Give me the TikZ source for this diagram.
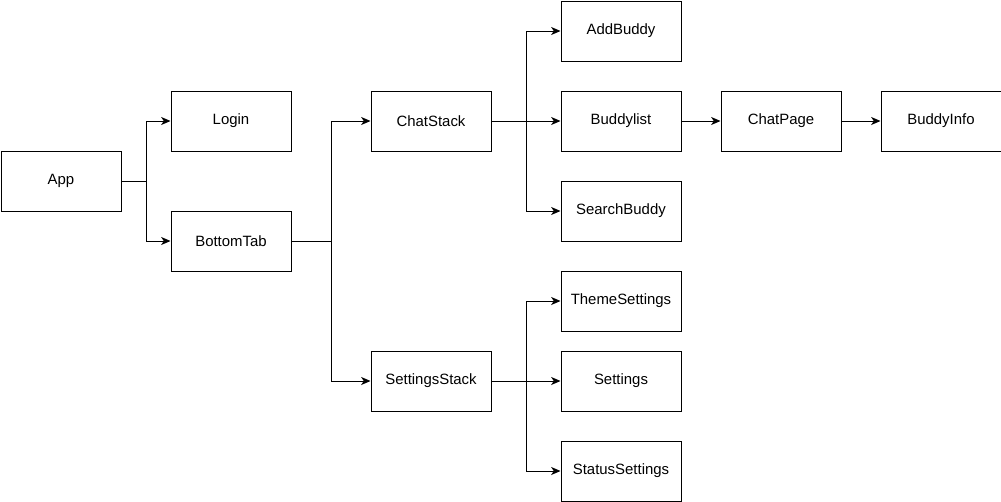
\documentclass[tikz,border=0pt]{standalone}
\usepackage{fontspec}
\setmainfont{Liberation Sans}
\usetikzlibrary{arrows.meta}
\begin{document}
\begin{tikzpicture}[x=0.75pt,y=-0.75pt,
  box/.style={draw=black,line width=0.75pt,minimum width=90pt,minimum height=45pt,inner sep=0pt,font=\fontsize{11.2pt}{13pt}\selectfont,anchor=north west},
  arr/.style={draw=black,line width=0.75pt,-{Stealth[length=7pt,width=6pt,inset=2pt]}}]
\useasboundingbox (0,0) rectangle (1001,501);
\node[box] (app) at (0.5,150.5) {App};
\node[box] (login) at (170.5,90.5) {Login};
\node[box] (bottomtab) at (170.5,210.5) {BottomTab};
\node[box] (chatstack) at (370.5,90.5) {ChatStack};
\node[box] (settingsstack) at (370.5,350.5) {SettingsStack};
\node[box] (addbuddy) at (560.5,0.5) {AddBuddy};
\node[box] (buddylist) at (560.5,90.5) {Buddylist};
\node[box] (searchbuddy) at (560.5,180.5) {SearchBuddy};
\node[box] (chatpage) at (720.5,90.5) {ChatPage};
\node[box] (buddyinfo) at (880.5,90.5) {BuddyInfo};
\node[box] (themesettings) at (560.5,270.5) {ThemeSettings};
\node[box] (settings) at (560.5,350.5) {Settings};
\node[box] (statussettings) at (560.5,440.5) {StatusSettings};
\draw[arr] (app.east) -- ++(25,0) |- (login.west);
\draw[arr] (app.east) -- ++(25,0) |- (bottomtab.west);
\draw[arr] (bottomtab.east) -- ++(40,0) |- (chatstack.west);
\draw[arr] (bottomtab.east) -- ++(40,0) |- (settingsstack.west);
\draw[arr] (chatstack.east) -- ++(35,0) |- (addbuddy.west);
\draw[arr] (chatstack.east) -- (buddylist.west);
\draw[arr] (chatstack.east) -- ++(35,0) |- (searchbuddy.west);
\draw[arr] (buddylist.east) -- (chatpage.west);
\draw[arr] (chatpage.east) -- (buddyinfo.west);
\draw[arr] (settingsstack.east) -- ++(35,0) |- (themesettings.west);
\draw[arr] (settingsstack.east) -- (settings.west);
\draw[arr] (settingsstack.east) -- ++(35,0) |- (statussettings.west);
\end{tikzpicture}
\end{document}
